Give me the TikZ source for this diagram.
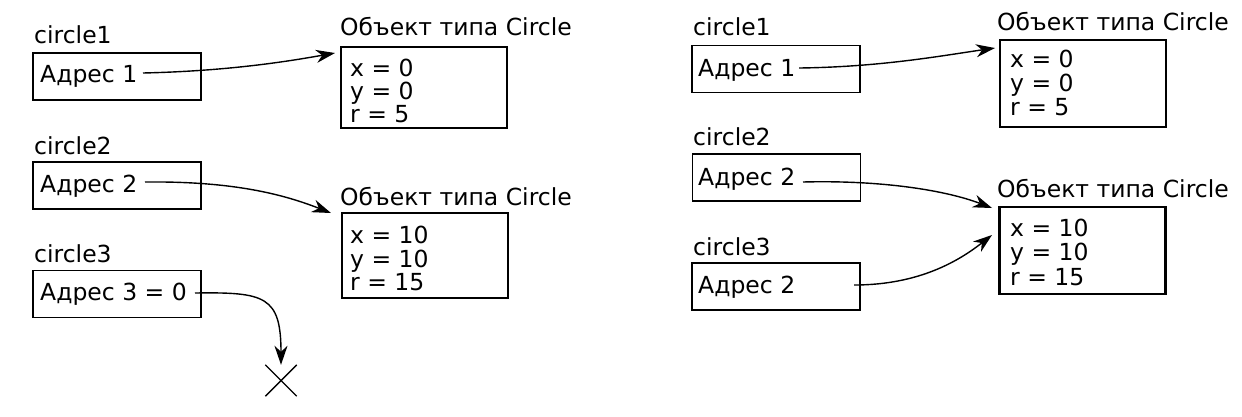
\documentclass[tikz,border=0pt]{standalone}
\usepackage{fontspec}
\setmainfont{DejaVu Sans}
\usetikzlibrary{arrows.meta,shapes.misc}
\begin{document}
\begin{tikzpicture}[x=1pt,y=-1pt,
  every node/.style={font=\fontsize{23.5}{24}\selectfont},
  lbl/.style={anchor=base west, inner sep=0pt},
  addr/.style={draw, line width=1.8pt, minimum width=168pt, minimum height=47pt, inner sep=0pt},
  obj/.style={draw, line width=2.8pt, minimum width=166pt, inner sep=0pt},
  ptr/.style={-{Stealth[length=19pt,width=13pt,inset=6pt]}, line width=1.4pt},
]
\useasboundingbox (0,0) rectangle (1242,416);

% ---------- left panel ----------
\node[lbl] (lc1) at (34,43) {circle1};
\node[addr] (lb1) at (117,76.5) {};
\node[lbl] (la1) at (40,82) {Адрес 1};
\node[lbl] (lc2) at (34,154) {circle2};
\node[addr] (lb2) at (117,185.5) {};
\node[lbl] (la2) at (40,192) {Адрес 2};
\node[lbl] (lc3) at (34,262) {circle3};
\node[addr] (lb3) at (117,294) {};
\node[lbl] (la3) at (40,300) {Адрес 3 = 0};

\node[lbl] (lt1) at (340,35) {Объект типа Circle};
\node[obj, minimum height=81pt] (lo1) at (424,87.5) {};
\node[lbl] (lo1x) at (350,76) {x = 0};
\node[lbl] (lo1y) at (350,99) {y = 0};
\node[lbl] (lo1r) at (350,122) {r = 5};

\node[lbl] (lt2) at (340,205) {Объект типа Circle};
\node[obj, minimum height=85pt] (lo2) at (425,255.5) {};
\node[lbl] (lo2x) at (350,243) {x = 10};
\node[lbl] (lo2y) at (350,267) {y = 10};
\node[lbl] (lo2r) at (350,290) {r = 15};

\node[draw, cross out, minimum size=30pt, inner sep=0pt, line width=1.4pt] (nul) at (281,380.5) {};

\coordinate (sl1) at (143,73);
\coordinate (el1) at (335,53);
\coordinate (sl2) at (145,182);
\coordinate (el2) at (331,213);
\coordinate (sl3) at (195,293);

\draw[ptr] (sl1) .. controls (230,71) and (290,61) .. (el1);
\draw[ptr] (sl2) .. controls (235,181) and (285,195) .. (el2);
\draw[ptr] (sl3) .. controls (265,292) and (281,296) .. (nul.north);

% ---------- right panel ----------
\node[lbl] (rc1) at (693,35) {circle1};
\node[addr] (rb1) at (776,69) {};
\node[lbl] (ra1) at (698,76) {Адрес 1};
\node[lbl] (rc2) at (693,145) {circle2};
\node[addr] (rb2) at (776.5,177.5) {};
\node[lbl] (ra2) at (698,185) {Адрес 2};
\node[lbl] (rc3) at (693,255) {circle3};
\node[addr] (rb3) at (776,286.5) {};
\node[lbl] (ra3) at (698,293) {Адрес 2};

\node[lbl] (rt1) at (997,30) {Объект типа Circle};
\node[obj, minimum height=87pt] (ro1) at (1083,83.5) {};
\node[lbl] (ro1x) at (1010,67) {x = 0};
\node[lbl] (ro1y) at (1010,91) {y = 0};
\node[lbl] (ro1r) at (1010,115) {r = 5};

\node[lbl] (rt2) at (997,197) {Объект типа Circle};
\node[obj, minimum height=87pt] (ro2) at (1082.5,250.5) {};
\node[lbl] (ro2x) at (1010,236) {x = 10};
\node[lbl] (ro2y) at (1010,260) {y = 10};
\node[lbl] (ro2r) at (1010,285) {r = 15};

\coordinate (sr1) at (799,68);
\coordinate (er1) at (995,48);
\coordinate (sr2) at (803,182);
\coordinate (er2) at (992,208);
\coordinate (sr3) at (854,285);
\coordinate (er3) at (992,235);

\draw[ptr] (sr1) .. controls (880,67) and (940,56) .. (er1);
\draw[ptr] (sr2) .. controls (880,180) and (945,190) .. (er2);
\draw[ptr] (sr3) .. controls (920,285) and (960,260) .. (er3);
\end{tikzpicture}
\end{document}
